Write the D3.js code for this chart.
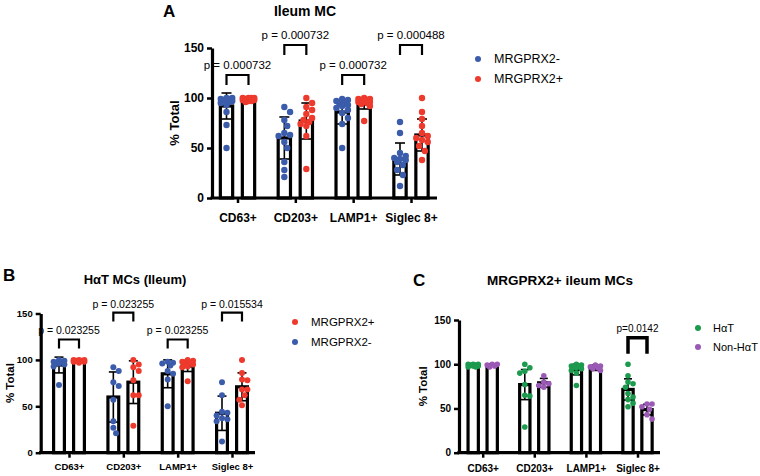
<!DOCTYPE html>
<html>
<head>
<meta charset="utf-8">
<script src="https://cdn.jsdelivr.net/npm/d3@7"></script>
<style>
  html, body { margin: 0; padding: 0; background: #fff; }
  svg { display: block; font-family: "Liberation Sans", Arial, Helvetica, sans-serif; }
</style>
</head>
<body>
<svg id="chart" width="760" height="476"></svg>
<script>
// ---------------- DATA ----------------
const categories = ["CD63+", "CD203+", "LAMP1+", "Siglec 8+"];
const yTicks = [0, 50, 100, 150];

const blue = "#3b5cab";
const red = "#ee3a2d";
const green = "#1c9a4e";
const purple = "#9b59b6";

// Panel A: Ileum MC
const aLegend = ["MRGPRX2-", "MRGPRX2+"];
const aNegMean = [92, 60, 86, 39];
const aNegSD = [13, 21, 12, 16];
const aPosMean = [99, 77, 94, 63];
const aPosSD = [2, 18, 5, 16];
const aNegPoints = [
  [100, 100, 99, 99, 98, 98, 97, 96, 95, 93, 86, 73, 50],
  [91, 86, 78, 72, 65, 63, 62, 56, 50, 36, 28, 21],
  [99, 98, 97, 96, 95, 93, 92, 90, 88, 85, 80, 74, 50],
  [76, 65, 45, 42, 40, 39, 38, 36, 33, 28, 23, 12]
];
const aPosPoints = [
  [100, 100, 100, 100, 99, 99, 99, 98, 98, 97, 97, 96],
  [100, 95, 91, 88, 84, 80, 78, 76, 74, 72, 62, 29],
  [100, 99, 99, 98, 98, 97, 96, 96, 95, 94, 92, 77],
  [100, 86, 79, 72, 65, 62, 60, 58, 56, 52, 47, 38]
];
const aPLabels = ["p = 0.000732", "p = 0.000732", "p = 0.000732", "p = 0.000488"];
const aBracketLevel = [123, 153, 123, 153];

// Panel B: HaT MCs (Ileum)
const bLegend = ["MRGPRX2+", "MRGPRX2-"];
const bNegMean = [94.5, 60, 85, 42.5];
const bNegSD = [8.5, 27, 15, 18.5];
const bPosMean = [99, 76, 93.5, 71];
const bPosSD = [1.5, 23, 6, 15];
const bNegPoints = [
  [100, 99, 98, 98, 97, 96, 95, 93, 73],
  [92, 88, 76, 72, 57, 34, 27, 21],
  [98, 97, 96, 94, 88, 85, 79, 50],
  [76, 62, 44, 43, 40, 37, 36, 34, 12]
];
const bPosPoints = [
  [100, 100, 100, 99, 99, 99, 98, 98, 97],
  [100, 95, 92, 88, 78, 62, 62, 29],
  [100, 99, 98, 97, 96, 95, 93, 92, 77],
  [100, 86, 79, 78, 68, 68, 62, 57, 51]
];
const bPLabels = ["p = 0.023255", "p = 0.023255", "p = 0.023255", "p = 0.015534"];
const bBracketLevel = [122, 151, 122, 151];

// Panel C: MRGPRX2+ ileum MCs
const cLegend = ["H\u03b1T", "Non-H\u03b1T"];
const cHatMean = [99.5, 77, 94, 71.5];
const cHatSD = [1, 17, 6, 12];
const cNonMean = [99.5, 79, 96, 48.7];
const cNonSD = [1, 5, 3, 6];
const cHatPoints = [
  [100, 100, 100, 99, 99, 98, 98, 97, 97],
  [100, 96, 92, 90, 77, 65, 64, 29],
  [100, 99, 98, 98, 97, 96, 95, 93, 90, 76],
  [100, 87, 80, 78, 74, 67, 63, 60, 56, 52]
];
const cNonPoints = [
  [100, 100, 99, 98, 97],
  [87, 80, 78, 76, 74],
  [99, 98, 97, 96, 95, 93],
  [55, 55, 52, 49, 43, 38]
];
const cPLabels = [null, null, null, "p=0.0142"];
const cBracketLevel = [null, null, null, 130];

// ---------------- DRAW ----------------
const svg = d3.select("#chart");

function dodge(values, y, r, maxOff) {
  const pts = values.map(v => ({ v, py: y(v), dx: 0 }))
    .sort((a, b) => a.py - b.py);
  const cands = [0];
  const stepPx = r * 0.9;
  for (let k = 1; k * stepPx <= maxOff + 0.01; k++) { cands.push(k * stepPx, -k * stepPx); }
  const placed = [];
  const minD = 2 * r * 0.95;
  pts.forEach(p => {
    let best = 0, bestScore = -Infinity;
    for (const c of cands) {
      let md = Infinity;
      for (const q of placed) {
        const d = Math.hypot(c - q.dx, p.py - q.py);
        if (d < md) md = d;
      }
      if (md >= minD) { best = c; bestScore = Infinity; break; }
      if (md > bestScore) { bestScore = md; best = c; }
    }
    p.dx = best;
    placed.push(p);
  });
  return pts;
}

function drawPanel(cfg) {
  const g = svg.append("g");
  const y = d3.scaleLinear().domain([0, 150]).range([cfg.y0, cfg.yTop]);
  const x = d3.scalePoint().domain(categories).range([cfg.cx0, cfg.cx1]);
  const sw = 3.2;

  // panel letter & title
  g.append("text").attr("x", cfg.letterX).attr("y", cfg.letterY)
    .attr("font-size", cfg.letterSize).attr("font-weight", "bold")
    .attr("dominant-baseline", "central").text(cfg.letter);
  g.append("text").attr("x", cfg.titleX).attr("y", cfg.titleY)
    .attr("font-size", cfg.titleSize).attr("font-weight", "bold")
    .attr("text-anchor", "middle").attr("dominant-baseline", "central").text(cfg.title);

  // y label
  g.append("text")
    .attr("transform", `translate(${cfg.ylabX},${(cfg.y0 + cfg.yTop) / 2}) rotate(-90)`)
    .attr("font-size", cfg.ylabSize).attr("font-weight", "bold")
    .attr("text-anchor", "middle").attr("dominant-baseline", "central").text("% Total");

  // bars
  cfg.series.forEach((s, si) => {
    const off = si === 0 ? -cfg.barOff : cfg.barOff;
    const bw = cfg.barW - sw;
    g.append("g").selectAll("rect").data(categories).join("rect")
      .attr("x", c => x(c) + off - bw / 2)
      .attr("y", (c, i) => y(s.mean[i]))
      .attr("width", bw)
      .attr("height", (c, i) => cfg.y0 - y(s.mean[i]))
      .attr("fill", "#fff").attr("stroke", "#000").attr("stroke-width", sw);
  });

  // error bars
  cfg.series.forEach((s, si) => {
    const off = si === 0 ? -cfg.barOff : cfg.barOff;
    const eg = g.append("g").attr("stroke", "#000").attr("stroke-width", 1.6);
    categories.forEach((c, i) => {
      const cx = x(c) + off;
      const top = y(s.mean[i] + s.sd[i]);
      const bot = y(s.mean[i] - s.sd[i]);
      eg.append("line").attr("x1", cx).attr("x2", cx).attr("y1", top).attr("y2", bot);
      eg.append("line").attr("x1", cx - cfg.capW / 2).attr("x2", cx + cfg.capW / 2).attr("y1", top).attr("y2", top);
      eg.append("line").attr("x1", cx - cfg.capW / 2).attr("x2", cx + cfg.capW / 2).attr("y1", bot).attr("y2", bot);
    });
  });

  // dots
  cfg.series.forEach((s, si) => {
    const off = si === 0 ? -cfg.barOff : cfg.barOff;
    categories.forEach((c, i) => {
      const pts = dodge(s.points[i], y, cfg.r, cfg.barW / 2 - 1);
      g.append("g").selectAll("circle").data(pts).join("circle")
        .attr("cx", p => x(c) + off + p.dx)
        .attr("cy", p => p.py)
        .attr("r", cfg.r)
        .attr("fill", s.color);
    });
  });

  // axes
  const yAxis = d3.axisLeft(y).tickValues(yTicks).tickSize(5).tickSizeOuter(0).tickPadding(3);
  const ya = g.append("g").attr("transform", `translate(${cfg.x0},0)`).call(yAxis);
  ya.select(".domain").attr("stroke-width", sw).attr("stroke", "#000");
  ya.selectAll(".tick line").attr("stroke-width", 2.5).attr("stroke", "#000");
  ya.selectAll(".tick text").attr("font-size", cfg.tickSize).attr("font-weight", "bold")
    .attr("font-family", "Liberation Sans, Arial, sans-serif").attr("fill", "#000");

  const xAxis = d3.axisBottom(x).tickSize(5).tickSizeOuter(0).tickPadding(cfg.xPad);
  const xa = g.append("g").attr("transform", `translate(0,${cfg.y0})`).call(xAxis);
  xa.select(".domain").remove();
  xa.selectAll(".tick line").attr("stroke-width", 2.5).attr("stroke", "#000");
  xa.selectAll(".tick text").attr("font-size", cfg.tickSize).attr("font-weight", "bold")
    .attr("font-family", "Liberation Sans, Arial, sans-serif").attr("fill", "#000");
  g.append("line").attr("x1", cfg.x0 - sw / 2).attr("x2", cfg.x1).attr("y1", cfg.y0).attr("y2", cfg.y0)
    .attr("stroke", "#000").attr("stroke-width", sw);

  // significance brackets
  categories.forEach((c, i) => {
    if (cfg.pLabels[i] == null) return;
    const xl = x(c) - cfg.barOff, xr = x(c) + cfg.barOff;
    const yt = y(cfg.bracket[i]);
    const yb = yt + cfg.legLen;
    g.append("path")
      .attr("d", `M${xl},${yb}V${yt}H${xr}V${yb}`)
      .attr("fill", "none").attr("stroke", "#000").attr("stroke-width", cfg.bracketW);
    g.append("text").attr("x", x(c)).attr("y", yt - cfg.pGap)
      .attr("font-size", cfg.pSize).attr("text-anchor", "middle")
      .attr("dominant-baseline", "central").text(cfg.pLabels[i]);
  });

  // legend
  cfg.legend.forEach((lab, li) => {
    const ly = cfg.legY + li * cfg.legStep;
    g.append("circle").attr("cx", cfg.legX).attr("cy", ly).attr("r", cfg.legR).attr("fill", cfg.legColors[li]);
    g.append("text").attr("x", cfg.legTextX).attr("y", ly)
      .attr("font-size", cfg.legSize).attr("dominant-baseline", "central").text(lab);
  });
}

drawPanel({
  letter: "A", letterX: 163, letterY: 11, letterSize: 17,
  title: "Ileum MC", titleX: 305, titleY: 11, titleSize: 14,
  ylabX: 174, ylabSize: 13,
  x0: 212, x1: 437, y0: 198, yTop: 48, cx0: 237.5, cx1: 411,
  barOff: 11, barW: 15.5, capW: 10, r: 3.2, tickSize: 12, xPad: 10,
  series: [
    { mean: aNegMean, sd: aNegSD, points: aNegPoints, color: blue },
    { mean: aPosMean, sd: aPosSD, points: aPosPoints, color: red }
  ],
  pLabels: aPLabels, bracket: aBracketLevel, legLen: 10, bracketW: 2.2, pGap: 10, pSize: 11.5,
  legend: aLegend, legColors: [blue, red], legX: 478, legY: 59, legStep: 20, legR: 3, legTextX: 494, legSize: 12.5
});

drawPanel({
  letter: "B", letterX: 3, letterY: 275, letterSize: 17,
  title: "H\u03b1T MCs (Ileum)", titleX: 135, titleY: 279, titleSize: 13,
  ylabX: 10, ylabSize: 11.5,
  x0: 40.7, x1: 255, y0: 452.7, yTop: 313.5, cx0: 69, cx1: 232,
  barOff: 10, barW: 14, capW: 9, r: 3, tickSize: 9.5, xPad: 6,
  series: [
    { mean: bNegMean, sd: bNegSD, points: bNegPoints, color: blue },
    { mean: bPosMean, sd: bPosSD, points: bPosPoints, color: red }
  ],
  pLabels: bPLabels, bracket: bBracketLevel, legLen: 9, bracketW: 2.2, pGap: 9, pSize: 10.5,
  legend: bLegend, legColors: [red, blue], legX: 295, legY: 322, legStep: 20, legR: 3, legTextX: 311, legSize: 11.5
});

drawPanel({
  letter: "C", letterX: 413, letterY: 280, letterSize: 17,
  title: "MRGPRX2+ ileum MCs", titleX: 560, titleY: 280, titleSize: 13.5,
  ylabX: 423, ylabSize: 11.5,
  x0: 459, x1: 660, y0: 452.7, yTop: 320, cx0: 482.7, cx1: 637.5,
  barOff: 9.5, barW: 13.5, capW: 8, r: 2.8, tickSize: 10, xPad: 7,
  series: [
    { mean: cHatMean, sd: cHatSD, points: cHatPoints, color: green },
    { mean: cNonMean, sd: cNonSD, points: cNonPoints, color: purple }
  ],
  pLabels: cPLabels, bracket: cBracketLevel, legLen: 16, bracketW: 3.5, pGap: 9, pSize: 10,
  legend: cLegend, legColors: [green, purple], legX: 698, legY: 328, legStep: 19, legR: 3, legTextX: 713, legSize: 11
});
</script>
</body>
</html>
